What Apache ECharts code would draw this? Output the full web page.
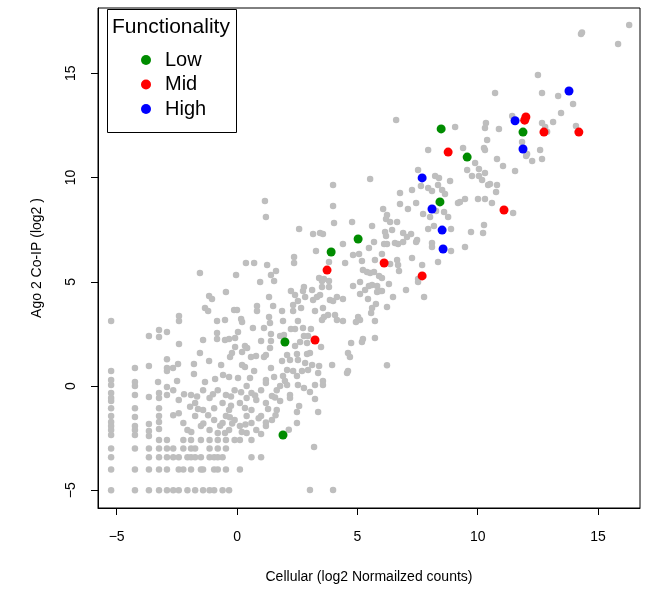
<!DOCTYPE html>
<html><head><meta charset="utf-8">
<script src="https://cdn.jsdelivr.net/npm/echarts@6/dist/echarts.min.js"></script>
<style>html,body{margin:0;padding:0;background:#fff}#c{width:658px;height:589px}</style>
</head><body><div id="c"></div>
<script>
const legendTitle = 'Functionality';
const groupNames = ['Low', 'Mid', 'High'];
const xTicks = [-5, 0, 5, 10, 15];
const yTicks = [-5, 0, 5, 10, 15];
const xTitle = 'Cellular (log2 Normailzed counts)';
const yTitle = 'Ago 2 Co-IP (log2 )';

const lowPoints = [[8.48,12.33],[11.88,12.18],[9.56,10.98],[8.43,8.83],[5.03,7.05],[3.91,6.43],[1.99,2.11],[1.91,-2.35]];
const midPoints = [[12.0,12.9],[11.95,12.75],[12.75,12.18],[14.2,12.18],[8.77,11.22],[11.09,8.44],[3.74,5.56],[6.11,5.90],[7.69,5.28],[3.24,2.21]];
const highPoints = [[13.79,14.15],[11.55,12.72],[11.88,11.37],[7.69,9.98],[8.1,8.49],[8.52,7.48],[8.56,6.57]];

const upperGenes = [
[16.29,17.31],[14.29,16.88],[14.33,16.95],[15.83,16.40],[12.5,14.92],[10.72,14.05],[12.67,14.05],[13.34,13.91],[13.96,13.53],[13.46,13.09],[13.13,12.66],[11.43,12.95],[10.34,12.61],[10.3,12.37],[10.88,12.33],[12.67,12.61],[12.8,12.42],[14.08,12.47],[12.88,12.2],[6.61,12.76],[9.06,12.42],
[10.39,11.8],[9.39,11.42],[10.26,11.42],[10.3,11.32],[11.84,11.7],[12.59,11.32],[12.05,11.13],[12.01,11.03],[12.26,10.79],[12.67,10.89],[10.8,10.89],[9.89,10.7],[11.05,10.55],[9.56,10.36],[10.05,10.41],[10.3,10.22],[11.55,10.31],[9.76,10.07],[10.05,10.07],[10.18,9.88],[10.43,9.64],[10.51,9.69],[10.8,9.64],[10.76,9.3],[9.47,8.97],[10.01,8.97],[10.3,8.97],[10.59,8.78],[11.47,8.3],[10.26,7.72],[9.72,7.39],[10.22,7.34],[9.47,6.67],[9.26,8.83]
];
const middleGenes = [
[7.94,11.32],[7.52,10.36],[8.23,10.07],[8.39,9.98],[8.85,9.83],[5.53,9.93],[3.99,9.64],[7.64,9.59],[8.35,9.64],[7.94,9.5],[8.1,9.35],[8.52,9.4],[8.64,9.21],[7.27,9.4],[6.77,9.26],[6.77,8.73],[7.44,8.78],[7.1,8.49],[9.18,8.78],[3.99,8.63],[6.07,8.49],[7.73,8.25],[8.27,8.39],[8.6,8.35],[8.02,8.11],[8.77,8.11],[6.23,8.2],[6.19,8.01],[6.36,7.87],[6.65,7.87],[4.03,7.82],[4.78,7.87],[5.61,7.67],[2.58,7.53],[3.16,7.29],[3.45,7.34],[3.57,7.29],[6.15,7.39],[6.44,7.48],[6.19,7.19],[6.9,7.34],[7.23,7.29],[7.06,7.15],[7.94,7.53],[8.18,7.67],[8.89,7.53],[7.48,7.0],[7.44,6.91],[8.1,6.86],[8.1,6.67],[5.69,6.91],[6.11,6.81],[6.23,6.81],[6.56,6.86],[6.69,6.81],[6.9,6.91],[4.4,6.81],[5.48,6.62],[3.28,6.47],[4.82,6.28],[5.07,6.33],[6.02,6.33],[8.89,6.47],[2.37,6.19],
[1.16,8.87],[1.2,8.11],
[2.37,5.9],[3.82,5.95],[4.49,5.9],[5.19,6.0],[5.73,6.04],[6.65,6.04],[7.27,6.14],[7.69,5.8],[8.35,5.95],[6.69,5.8],[6.36,5.85],[5.23,5.56],[5.4,5.47],[5.53,5.42],[5.69,5.47],[5.9,5.28],[6.02,5.18],[6.73,5.52],[7.52,5.13],[7.52,4.99],[3.41,5.18],[3.53,5.04],[3.61,5.13],[3.82,5.04],[3.53,4.75],[3.82,4.75],[5.11,4.99],[5.48,4.8],[5.61,4.84],[5.82,4.8],[5.94,4.56],[4.82,4.8],[5.32,4.6],[5.11,4.41],[5.44,4.17],[5.82,4.51],[6.02,4.56],[6.31,4.89],[6.48,4.27],[7.02,4.6],[7.77,4.27],[2.24,4.56],[2.41,4.36],[2.78,4.75],[2.74,4.56],[3.12,4.6],[2.83,4.27],[3.16,4.12],[3.32,4.27],[3.45,4.36],[2.53,4.08],[2.33,3.88],[2.66,3.74],[1.87,3.6],[2.33,3.6],[3.86,4.12],[3.99,4.08],[4.15,4.27],[4.4,4.17],[3.57,3.74],[3.24,3.6],[3.61,3.31],[3.78,3.41],[4.07,3.41],[4.4,3.12],[4.15,3.17],[3.53,3.17],[5.03,3.31],[5.11,3.17],[4.94,3.07],[5.57,3.5],[5.61,3.74],[5.77,3.93],[5.73,3.12],[6.23,3.79],[2.53,3.12],[1.91,3.12],[2.24,2.73],[2.41,2.73],[2.74,2.78],[3.07,2.73],[1.95,2.45],[2.78,2.4],[2.95,2.4],[1.79,2.4],[2.41,1.92],[2.62,2.11],[2.91,2.06],[3.49,1.87],[2.08,1.49],[2.49,1.53],[2.91,1.53],[3.03,1.58],[1.87,1.2],[2.2,1.25],[2.53,1.25],[2.83,1.1],[3.12,1.01],[3.41,0.96],[3.95,1.01],[4.69,1.39],[4.61,1.58],[4.74,2.06],[5.19,2.11],[5.23,2.25],[5.73,2.3],[6.23,1.0],[2.08,0.77],[2.33,0.72],[2.7,0.72],[2.95,0.77],[1.91,0.48],[2.49,0.48],[3.37,0.62],[4.57,0.62],[4.61,0.72],[3.57,0.24],[1.99,0.24],
[1.79,0.0],[2.08,0.05],[2.53,0.05],[2.78,-0.1],[3.24,0.05],[3.57,0.05],[3.03,-0.29],[2.2,-0.43],[2.2,-0.58],[3.24,-0.62],[1.79,-0.72],[2.58,-0.96],[2.49,-1.25],[3.37,-1.25],[2.49,-1.77],[3.2,-2.93],[3.03,-4.99],[3.99,-4.99]
];
const lowerGenes = [
[-5.23,3.12],[0.37,5.9],[0.71,5.9],[1.25,5.8],[-1.54,5.42],[-0.04,5.32],[1.41,5.32],[1.62,5.52],[0.96,4.99],[1.54,5.04],[-0.46,4.51],[-1.16,4.32],[-1.04,4.17],[1.33,4.27],[-1.33,3.74],[-1.2,3.6],[-0.12,3.65],[0.0,3.65],[0.83,3.84],[0.83,3.6],[1.5,3.84],[-2.41,3.36],[-2.41,3.12],[-0.83,3.12],[-0.5,3.17],[0.17,3.21],[0.21,3.07],[1.33,3.31],[-3.24,2.69],[-2.91,2.59],[-3.66,2.4],[-3.24,2.35],[-2.41,2.01],[-1.41,2.21],[-0.83,2.54],[-0.83,2.25],[-0.5,2.21],[-0.33,2.25],[-0.08,2.3],[0.04,2.59],[0.66,2.78],[1.12,2.78],[1.37,3.02],[1.41,2.49],[1.0,2.16],[1.41,2.16],[0.33,1.92],[-0.08,1.87],[-1.54,1.58],[-2.91,1.29],[-1.16,1.2],[-0.66,1.01],[-0.29,1.39],[-0.21,1.58],[0.21,1.63],[0.42,1.82],[0.58,1.39],[0.79,1.44],[1.12,1.39],[1.2,1.49],[1.37,1.82],[0.21,1.01],[0.33,0.91],[0.71,0.72],[1.41,0.86],[-5.23,0.72],[-4.24,0.86],[-3.66,0.96],[-2.91,0.86],[-2.91,0.72],[-2.66,0.86],[-2.45,1.06],[-1.79,1.06],[-1.79,0.58],[-5.23,0.29],[-4.24,0.19],[-3.28,0.19],[-2.49,0.24],[-1.33,0.19],[-0.91,0.34],[-0.58,0.53],[-0.33,0.43],[0.04,0.38],[0.54,0.38],[1.2,0.29],[1.54,0.43],
[-5.23,0.05],[-5.23,-0.34],[-5.23,-0.58],[-5.23,-0.72],[-5.23,-1.06],[-5.23,-1.44],[-5.23,-1.73],[-5.23,-1.92],[-5.23,-2.11],[-5.23,-2.35],[-5.23,-3.0],[-5.23,-3.42],[-5.23,-4.0],[-5.23,-5.0],
[-4.24,0.0],[-4.24,-0.43],[-4.24,-1.06],[-4.24,-1.49],[-4.24,-1.92],[-4.24,-2.11],[-4.24,-2.35],[-4.24,-3.0],[-4.24,-4.0],[-4.24,-5.0],
[-3.66,-0.53],[-3.66,-1.82],[-3.66,-2.16],[-3.66,-2.4],[-3.66,-3.0],[-3.66,-3.42],[-3.66,-4.0],[-3.66,-5.0],
[-3.24,-0.34],[-3.24,-0.58],[-3.24,-1.06],[-3.24,-1.44],[-3.24,-1.73],[-3.24,-2.06],[-3.24,-2.59],[-3.24,-3.0],[-3.24,-3.42],[-3.24,-4.0],[-3.24,-5.0],
[-2.91,-0.05],[-2.91,-0.43],[-2.91,-2.59],[-2.91,-3.0],[-2.91,-3.42],[-2.91,-4.0],[-2.91,-5.0],
[-2.65,-0.2],[-2.65,-1.4],[-2.65,-3.0],[-2.65,-3.42],[-2.65,-5.0],
[-2.42,-4.0],[-2.42,-5.0],[-2.42,-3.42],[-2.42,-1.3],[-2.42,-0.67],
[-2.23,-3.0],[-2.23,-4.0],[-2.23,-2.59],[-2.23,-1.77],
[-2.06,-3.42],[-2.06,-5.0],[-2.06,-2.11],
[-1.91,-3.0],[-1.91,-3.42],[-1.91,-4.0],[-1.91,-2.59],[-1.91,-0.43],
[-1.74,-3.0],[-1.74,-3.42],[-1.74,-5.0],[-1.74,-1.44],[-1.74,-0.82],
[-1.5,-3.42],[-1.5,-4.0],[-1.5,-2.59],[-1.5,-1.92],
[-1.41,-4.0],[-1.41,-5.0],[-1.41,-0.2],[-1.41,-1.15],
[-1.14,-3.0],[-1.14,-3.42],[-1.14,-5.0],[-1.14,-2.59],[-1.14,-2.11],[-1.14,-0.58],
[-0.95,-4.0],[-0.95,-3.42],[-0.95,-5.0],[-0.95,-1.63],[-0.95,-1.06],
[-0.8,-3.0],[-0.8,-3.42],[-0.8,-4.0],[-0.8,-2.59],[-0.8,-2.25],[-0.8,-0.2],
[-0.6,-3.42],[-0.6,-5.0],[-0.6,-1.77],[-0.6,-0.82],
[-0.46,-3.0],[-0.46,-4.0],[-0.46,-2.59],[-0.46,-1.44],[-0.46,-0.43],
[-0.33,-5.0],[-0.33,-2.11],[-0.33,-1.15],
[-0.1,-2.59],[-0.1,-1.63],[-0.1,-0.2],
[0.12,-4.0],[0.12,-2.59],[0.12,-1.92],[0.12,-0.82],
[0.4,-1.44],[0.4,-2.25],[0.4,-0.58],[0.4,0.0],
[0.6,-3.42],[0.6,-2.59],[0.6,-1.77],[0.6,-1.15],[0.6,-0.34],
[0.8,-2.11],[0.8,-0.67],
[1.0,-3.42],[1.0,-1.44],[1.0,-0.2],
[1.2,-1.92],[1.2,-0.82],[1.2,0.14],
[1.45,-1.63],[1.45,-0.48],
[1.65,-1.15],[1.65,-0.2],
[-1.66,-0.5],[-1.0,-0.4],[-0.25,-0.5],[0.17,-0.3],[0.75,-0.45],[1.58,-0.55],[-2.2,-0.4],
[-1.95,-1.0],[-1.62,-1.1],[-0.25,-0.95],[0.33,-1.05],[1.29,-1.1],
[-1.2,-1.4],[-0.3,-1.5],[0.9,-1.55],[1.6,-1.4],
[-1.4,-1.8],[-0.7,-1.9],[-0.2,-1.8],[0.35,-1.85],[1.2,-1.75],
[-1.9,-2.2],[-0.5,-2.25],[0.2,-2.2],[1.0,-2.3],[2.15,-2.1]
];

const fontFam = '"Liberation Sans", Arial, Helvetica, sans-serif';
const fmtMinus = v => String(v).replace('-', '\u2212');

const chart = echarts.init(document.getElementById('c'), null, {renderer: 'canvas'});
chart.setOption({
  backgroundColor: '#ffffff',
  animation: false,
  textStyle: {fontFamily: fontFam},
  grid: {left: 98, top: 8, width: 542, height: 500, show: true, borderColor: '#000', borderWidth: 1, backgroundColor: 'transparent'},
  xAxis: {
    type: 'value', min: -5.775, max: 16.74,
    name: xTitle, nameLocation: 'middle', nameGap: 62,
    nameTextStyle: {fontSize: 14, color: '#000', fontFamily: fontFam},
    axisLine: {show: true, onZero: false, lineStyle: {color: '#000', width: 1}},
    axisTick: {show: true, length: 7, inside: false, customValues: xTicks, lineStyle: {color: '#000'}},
    axisLabel: {show: true, margin: 22, fontSize: 14, color: '#000', fontFamily: fontFam, customValues: xTicks, formatter: fmtMinus},
    splitLine: {show: false}
  },
  yAxis: {
    type: 'value', min: -5.85, max: 18.13,
    name: yTitle, nameLocation: 'middle', nameGap: 54, nameRotate: 90,
    nameTextStyle: {fontSize: 14, color: '#000', fontFamily: fontFam},
    axisLine: {show: true, onZero: false, lineStyle: {color: '#000', width: 1}},
    axisTick: {show: true, length: 7, inside: false, customValues: yTicks, lineStyle: {color: '#000'}},
    axisLabel: {show: true, margin: 20, rotate: 90, fontSize: 14, color: '#000', fontFamily: fontFam, customValues: yTicks, formatter: fmtMinus},
    splitLine: {show: false}
  },
  legend: {
    data: groupNames, orient: 'vertical', left: 136, top: 45, z: 20,
    icon: 'circle', itemWidth: 10, itemHeight: 10, itemGap: 4.5,
    textStyle: {fontSize: 20, lineHeight: 20, color: '#000', fontFamily: fontFam, padding: [0, 0, 0, 9]},
    selectedMode: false
  },
  graphic: [
    {type: 'rect', left: 107, top: 9, shape: {width: 129, height: 123}, style: {fill: '#fff', stroke: '#000', lineWidth: 1}, z: 5},
    {type: 'text', left: 112, top: 17, style: {text: legendTitle, fontSize: 21, fontFamily: fontFam, fill: '#000'}, z: 6}
  ],
  series: [
    {name: 'all', type: 'scatter', data: upperGenes.concat(middleGenes, lowerGenes), symbolSize: 6.5, itemStyle: {color: '#bebebe', opacity: 1}, z: 1, silent: true},
    {name: groupNames[0], type: 'scatter', data: lowPoints, symbolSize: 9, itemStyle: {color: '#008c00', opacity: 1}, z: 3},
    {name: groupNames[1], type: 'scatter', data: midPoints, symbolSize: 9, itemStyle: {color: '#ff0000', opacity: 1}, z: 3},
    {name: groupNames[2], type: 'scatter', data: highPoints, symbolSize: 9, itemStyle: {color: '#0000ff', opacity: 1}, z: 3}
  ]
});
</script>
</body></html>
